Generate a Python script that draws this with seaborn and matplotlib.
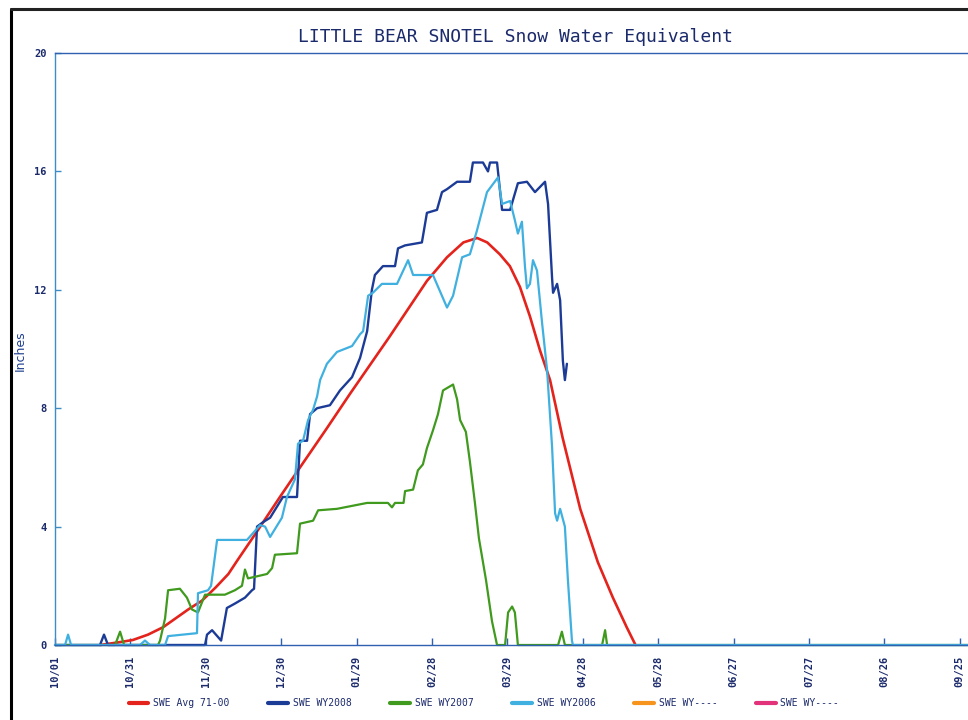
import matplotlib
matplotlib.use("Agg")
import matplotlib.pyplot as plt
from matplotlib.lines import Line2D
import seaborn as sns
import pandas as pd

# ---------------- data (day of water year from 10/01, inches SWE) ----------------
avg_day = [18, 26, 31, 37, 43, 48, 53, 58.5, 64, 69, 72.5, 80.5, 89.5, 97.5, 108, 117.5,
           133, 148, 156, 162.5, 168, 172, 177, 181, 185, 189, 193, 197, 202, 209, 216,
           222, 227.5, 231]
avg_swe = [0.0, 0.1, 0.17, 0.35, 0.6, 0.9, 1.2, 1.5, 1.95, 2.4, 2.85, 3.85, 5.0, 6.0, 7.3,
           8.5, 10.4, 12.3, 13.1, 13.6, 13.75, 13.6, 13.2, 12.8, 12.1, 11.1, 9.95, 8.95,
           7.0, 4.6, 2.8, 1.6, 0.6, 0.0]

wy2008_day = [0, 17.9, 19.5, 21.1, 59.7, 60.5, 62.5, 66.1, 68.4, 71.6, 75.6, 78.4, 79.2,
              80.4, 82.8, 85.6, 90.7, 96.3, 97.5, 100.3, 101.5, 104.3, 109.4, 113.4, 118.2,
              121.4, 124.2, 126.1, 127.3, 130.5, 135.3, 136.5, 139.3, 146.0, 148.0, 152.0,
              154.0, 156.0, 160.0, 165.1, 166.3, 170.3, 172.3, 173.1, 175.9, 177.9, 181.1,
              184.2, 187.8, 191.0, 195.0, 196.2, 197.8, 198.2, 199.8, 201.0, 202.1, 202.9,
              203.7]
wy2008_swe = [0, 0, 0.35, 0, 0, 0.35, 0.5, 0.15, 1.25, 1.4, 1.6, 1.85, 1.9, 4.0, 4.15, 4.3,
              5.0, 5.0, 6.9, 6.9, 7.8, 8.0, 8.1, 8.6, 9.05, 9.7, 10.6, 12.0, 12.5, 12.8, 12.8,
              13.4, 13.5, 13.6, 14.6, 14.7, 15.3, 15.4, 15.65, 15.65, 16.3, 16.3, 16.0, 16.3,
              16.3, 14.7, 14.7, 15.6, 15.65, 15.3, 15.65, 14.9, 12.4, 11.9, 12.2, 11.65, 9.6,
              8.95, 9.5]

wy2007_day = [0, 23.9, 25.9, 27.5, 41.0, 41.8, 43.8, 45.0, 49.7, 52.5, 54.5, 56.9, 59.7,
              67.6, 71.6, 74.4, 75.6, 76.8, 84.4, 86.4, 87.5, 96.3, 97.5, 102.7, 104.7,
              112.2, 124.2, 132.5, 134.1, 135.3, 138.7, 139.3, 142.5, 144.4, 146.4, 148.0,
              150.4, 152.4, 154.4, 156.4, 158.4, 160.0, 161.2, 163.5, 165.1, 167.1, 168.7,
              171.5, 173.9, 175.9, 179.1, 180.3, 181.9, 183.0, 184.2, 200.2, 201.7, 202.9,
              217.7, 218.9, 219.7, 365]
wy2007_swe = [0, 0, 0.45, 0, 0, 0.15, 0.9, 1.85, 1.9, 1.6, 1.2, 1.1, 1.7, 1.7, 1.85, 2.0,
              2.55, 2.25, 2.4, 2.6, 3.05, 3.1, 4.1, 4.2, 4.55, 4.6, 4.8, 4.8, 4.65, 4.8, 4.8,
              5.2, 5.25, 5.9, 6.1, 6.65, 7.25, 7.8, 8.6, 8.7, 8.8, 8.3, 7.6, 7.2, 6.2, 4.8,
              3.6, 2.2, 0.8, 0, 0, 1.1, 1.3, 1.1, 0, 0, 0.45, 0, 0, 0.5, 0, 0]

wy2006_day = [0, 4.0, 5.2, 6.4, 33.8, 35.8, 37.8, 43.8, 45.0, 56.5, 56.9, 60.9, 62.1, 64.5,
              76.4, 81.6, 83.6, 85.6, 90.3, 92.3, 95.5, 96.7, 98.7, 100.7, 102.7, 104.3,
              105.5, 108.2, 112.2, 118.2, 121.4, 122.6, 124.6, 126.5, 130.1, 136.1, 140.5,
              142.5, 150.4, 156.0, 158.4, 162.0, 165.1, 167.9, 171.9, 176.3, 177.9, 181.1,
              183.0, 184.2, 185.8, 187.0, 187.8, 189.0, 190.2, 191.8, 193.8, 195.8, 197.8,
              199.0, 199.8, 201.0, 202.9, 204.1, 205.7, 206.1, 365]
wy2006_swe = [0, 0, 0.35, 0, 0, 0.15, 0, 0, 0.3, 0.4, 1.75, 1.85, 2.0, 3.55, 3.55, 4.05,
              4.0, 3.65, 4.3, 5.0, 5.6, 6.8, 6.9, 7.6, 7.95, 8.4, 8.95, 9.5, 9.9, 10.1, 10.5,
              10.6, 11.8, 11.9, 12.2, 12.2, 13.0, 12.5, 12.5, 11.4, 11.8, 13.1, 13.2, 14.0,
              15.3, 15.8, 14.9, 15.0, 14.35, 13.9, 14.3, 12.8, 12.05, 12.2, 13.0, 12.65,
              10.9, 9.3, 6.7, 4.45, 4.2, 4.6, 4.0, 2.2, 0.15, 0, 0]

tick_days = [0, 30, 60, 90, 120, 150, 180, 210, 240, 270, 300, 330, 360]
tick_labels = ["10/01", "10/31", "11/30", "12/30", "01/29", "02/28", "03/29",
               "04/28", "05/28", "06/27", "07/27", "08/26", "09/25"]
y_ticks = [0, 4, 8, 12, 16, 20]
series_names = ["SWE Avg 71-00", "SWE WY2008", "SWE WY2007", "SWE WY2006",
                "SWE WY----", "SWE WY----"]
series_colors = ["#e3231c", "#1c3b96", "#3f9a1e", "#3fb0df", "#f7941d", "#e2337a"]
title = "LITTLE BEAR SNOTEL Snow Water Equivalent"

# ---------------- figure ----------------
sns.set_style("white")
plt.rcParams["font.family"] = ["DejaVu Sans Mono", "DejaVu Sans"]
navy = "#1b2a6b"

W, H = 968, 720
fig = plt.figure(figsize=(W / 100, H / 100), dpi=100)
fig.patch.set_facecolor("white")
ax = fig.add_axes([55 / W, 1 - 645 / H, (W - 55) / W, (645 - 53) / H])

data = [(avg_day, avg_swe, 1.9), (wy2008_day, wy2008_swe, 1.7),
        (wy2007_day, wy2007_swe, 1.6), (wy2006_day, wy2006_swe, 1.6)]
for (d, v, lw), name, col in zip(data, series_names, series_colors):
    df = pd.DataFrame({"day": d, "swe": v})
    sns.lineplot(data=df, x="day", y="swe", estimator=None, sort=False,
                 color=col, linewidth=lw, ax=ax, clip_on=False)

ax.set_xlim(0, (W - 55) / 2.513)
ax.set_ylim(0, 20)
ax.set_xticks(tick_days)
ax.set_xticklabels(tick_labels, rotation=90, fontsize=7.5, color=navy,
                   fontweight="bold")
ax.set_yticks(y_ticks)
ax.set_yticklabels([str(t) for t in y_ticks], fontsize=7.5, color=navy,
                   fontweight="bold")
ax.tick_params(axis="x", direction="in", length=5, width=1, color="#3060b0",
               pad=8, bottom=True)
ax.tick_params(axis="y", direction="in", length=4, width=1, color="#3c8cc8",
               pad=6, left=True)
ax.set_xlabel("")
ax.set_ylabel("")
for side, col in [("left", "#3c8cc8"), ("top", "#3060b0"), ("bottom", "#3060b0")]:
    ax.spines[side].set_color(col)
    ax.spines[side].set_linewidth(1.0)
    ax.spines[side].set_visible(True)
ax.spines["right"].set_visible(False)
ax.grid(False)

fig.text(516 / W, 1 - 37 / H, title, ha="center", va="center", fontsize=13,
         color=navy, family="DejaVu Sans Mono")
fig.text(20 / W, 1 - 351 / H, "Inches", rotation=90, ha="center", va="center",
         fontsize=9, color="#1f3f8f", family="DejaVu Sans")

handles = [Line2D([0], [0], color=c, lw=3) for c in series_colors]
leg = fig.legend(handles, series_names, loc="center",
                 bbox_to_anchor=(484 / W, 1 - 703 / H), ncol=6, frameon=False,
                 fontsize=7, handlelength=2.0, columnspacing=4.0,
                 handletextpad=0.5)
for t in leg.get_texts():
    t.set_color(navy)

# scanned page border lines
fig.add_artist(Line2D([11 / W, 11 / W], [0, 1 - 9 / H], transform=fig.transFigure,
                      color="black", lw=2.2))
fig.add_artist(Line2D([11 / W, 1], [1 - 9 / H, 1 - 9 / H], transform=fig.transFigure,
                      color="#222222", lw=2.2))

fig.savefig("out.png", dpi=100)
